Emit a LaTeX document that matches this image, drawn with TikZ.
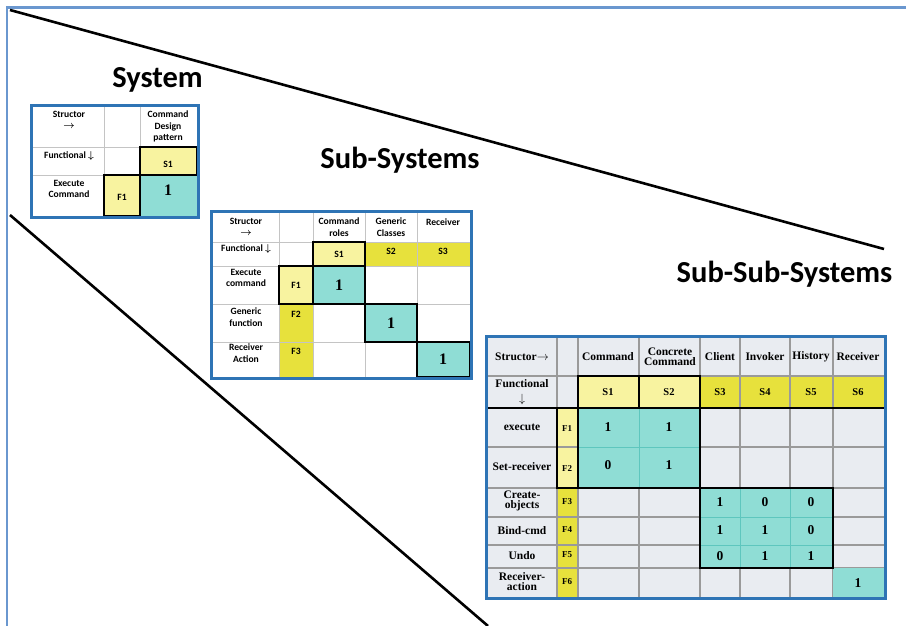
\documentclass[tikz,border=0pt]{standalone}
\usepackage{fontspec}
\setmainfont{Carlito}
\newfontfamily\timesfont{Liberation Serif}
\usepackage{xcolor}

\definecolor{pageblue}{HTML}{6A97CF}
\definecolor{tableblue}{HTML}{2E74B5}
\definecolor{paleyel}{HTML}{F8F3A0}
\definecolor{strongyel}{HTML}{E7E13C}
\definecolor{tealcell}{HTML}{8FDDD5}
\definecolor{tealline}{HTML}{5EC6BE}
\definecolor{lightcell}{HTML}{E9ECF1}
\definecolor{softgray}{HTML}{C4C4C4}
\definecolor{midgray}{HTML}{9A9A9A}

\begin{document}
\begin{tikzpicture}[
    x=1pt, y=-1pt,
    bluebox/.style={draw=tableblue, line width=3pt},
    gridline/.style={draw=softgray, line width=0.8pt},
    gridlinedark/.style={draw=midgray, line width=1.1pt},
    tealrule/.style={draw=tealline, line width=1pt},
    blackedge/.style={draw=black, line width=1.3pt},
    levelname/.style={font=\bfseries\fontsize{30.5}{34}\selectfont, inner sep=0pt, anchor=base},
    hdr/.style={font=\bfseries\fontsize{9.6}{11.5}\selectfont, align=center, inner sep=0pt},
    one/.style={font=\timesfont\bfseries\fontsize{16}{16}\selectfont, inner sep=0pt},
    hdrtimes/.style={font=\timesfont\bfseries\fontsize{11.5}{10}\selectfont, align=center, inner sep=0pt},
    ftimes/.style={font=\timesfont\bfseries\fontsize{9}{9}\selectfont, inner sep=0pt},
    valtimes/.style={font=\timesfont\bfseries\fontsize{13.5}{14}\selectfont, inner sep=0pt}
]
\useasboundingbox (0,0) rectangle (906,626);

% page edge and the two converging lines
\draw[pageblue, line width=2.5pt] (906,7.5) -- (7,7.5) -- (7,626);
\coordinate (upperstart) at (10,10);
\coordinate (upperend) at (884,249);
\coordinate (lowerstart) at (10,215);
\coordinate (lowerend) at (488,626);
\draw[line width=2.6pt] (upperstart) -- (upperend);
\draw[line width=2.6pt] (lowerstart) -- (lowerend);

% Level names
\node[levelname] (sysname) at (157.5,87.5) {System};
\node[levelname] (subname) at (400,168) {Sub-Systems};
\node[levelname] (subsubname) at (784.5,282) {Sub-Sub-Systems};

%% System matrix
\fill[paleyel] (140,147) rectangle (197,175);
\fill[paleyel] (104,175) rectangle (140,216);
\fill[tealcell] (140,175) rectangle (197,216);
\foreach \x in {104,140} \draw[gridline] (\x,107) -- (\x,216);
\foreach \y in {147,175} \draw[gridline] (33,\y) -- (197,\y);
\draw[blackedge] (140,147) rectangle (197,175);
\draw[blackedge] (104,175) rectangle (140,216);
\draw[bluebox] (31.5,105.5) rectangle (198.5,217.5);

\node[hdr, anchor=north] (sysstruct) at (69,111) {Structor\\{\boldmath$\rightarrow$}};
\node[hdr, anchor=north] (syscmd) at (168,111) {Command\\Design\\pattern};
\node[hdr] (sysfunc) at (69,156) {Functional {\boldmath$\downarrow$}};
\node[hdr] (sysS1) at (168,164) {S1};
\node[hdr] (sysexec) at (69,189) {Execute\\Command};
\node[hdr] (sysF1) at (122,197) {F1};
\node[one] (sysone) at (168,190) {1};

%% Sub-system matrix
\fill[paleyel] (313,242) rectangle (365,266);
\fill[strongyel] (365,242) rectangle (470,266);
\fill[paleyel] (279,266) rectangle (313,304);
\fill[strongyel] (279,304) rectangle (313,377);
\fill[tealcell] (313,266) rectangle (365,304);
\fill[tealcell] (365,304) rectangle (417,342);
\fill[tealcell] (417,342) rectangle (470,377);
\foreach \x in {279,313,365,417} \draw[gridline] (\x,213) -- (\x,377);
\foreach \y in {242,266,304,342} \draw[gridline] (213,\y) -- (470,\y);
\draw[blackedge] (313,242) rectangle (365,266);
\draw[blackedge] (279,266) rectangle (313,304);
\draw[blackedge] (313,266) rectangle (365,304);
\draw[blackedge] (365,304) rectangle (417,342);
\draw[blackedge] (417,342) rectangle (470,377);
\draw[bluebox] (211.5,211.5) rectangle (471.5,378.5);

\node[hdr] (substruct) at (246,227) {Structor\\{\boldmath$\rightarrow$}};
\node[hdr] (subroles) at (339,227) {Command\\roles};
\node[hdr] (subclasses) at (391,227) {Generic\\Classes};
\node[hdr] (subrecv) at (443,222) {Receiver};
\node[hdr] (subfunc) at (246,249) {Functional {\boldmath$\downarrow$}};
\node[hdr] (subS1) at (339,254) {S1};
\node[hdr] (subS2) at (391,251) {S2};
\node[hdr] (subS3) at (443,251) {S3};
\node[hdr] (subexec) at (246,278) {Execute\\command};
\node[hdr] (subgen) at (246,317) {Generic\\function};
\node[hdr] (subact) at (246,353) {Receiver\\Action};
\node[hdr] (subF1) at (296,285) {F1};
\node[hdr] (subF2) at (296,314) {F2};
\node[hdr] (subF3) at (296,351) {F3};
\node[one] (subone1) at (339,285) {1};
\node[one] (subone2) at (391,323) {1};
\node[one] (subone3) at (443,359) {1};

%% Sub-sub-system matrix
\fill[lightcell] (488,338) rectangle (884,597);
\fill[paleyel] (578,376) rectangle (700,408);
\fill[strongyel] (700,376) rectangle (884,408);
\fill[paleyel] (557,408) rectangle (578,488);
\fill[strongyel] (557,488) rectangle (578,597);
\foreach \x in {557,578,639,700,740,790,833} \draw[gridlinedark] (\x,338) -- (\x,597);
\foreach \y in {376,447,488,517,545,568} \draw[gridlinedark] (488,\y) -- (884,\y);
\fill[tealcell] (578,408) rectangle (700,488);
\fill[tealcell] (700,488) rectangle (833,568);
\fill[tealcell] (833,568) rectangle (884,597);
\draw[tealrule] (639,408) -- (639,488) (578,447) -- (700,447);
\draw[tealrule] (740,488) -- (740,568) (790,488) -- (790,568)
                (700,517) -- (833,517) (700,545) -- (833,545);
\draw[blackedge] (578,376) rectangle (639,408) (639,376) rectangle (700,408);
\draw[blackedge] (488,408) -- (884,408);
\draw[blackedge] (557,408) rectangle (700,488) (578,408) -- (578,488);
\draw[blackedge] (700,488) rectangle (833,568);
\draw[bluebox] (486.5,336.5) rectangle (885.5,598.5);

% column heads
\node[hdrtimes] (ssstruct) at (522,357) {Structor$\rightarrow$};
\node[hdrtimes] (sscmd) at (608,357) {Command};
\node[hdrtimes] (ssconcrete) at (670,357) {Concrete\\Command};
\node[hdrtimes] (ssclient) at (720,357) {Client};
\node[hdrtimes] (ssinvoker) at (765,357) {Invoker};
\node[hdrtimes] (sshistory) at (811,357) {History};
\node[hdrtimes] (ssrecv) at (858,357) {Receiver};
\node[hdrtimes, anchor=north, font=\timesfont\bfseries\fontsize{11.5}{15}\selectfont] (ssfunc) at (522,379) {Functional\\$\downarrow$};
\foreach \x/\s [count=\i] in {608/S1,669/S2,720/S3,765/S4,811/S5,858/S6}
    \node[ftimes, font=\timesfont\bfseries\fontsize{10.5}{10}\selectfont] (ssS\i) at (\x,392) {\s};

% row heads
\node[hdrtimes] (ssexec) at (522,427) {execute};
\node[hdrtimes] (ssset) at (522,467) {Set-receiver};
\node[hdrtimes] (sscreate) at (522,501) {Create-\\objects};
\node[hdrtimes] (ssbind) at (522,531) {Bind-cmd};
\node[hdrtimes] (ssundo) at (522,556) {Undo};
\node[hdrtimes] (ssaction) at (522,582) {Receiver-\\action};
\foreach \y [count=\i] in {429,469,502,530,555,582}
    \node[ftimes] (ssF\i) at (567,\y) {F\i};

% entries
\foreach \x/\y/\v [count=\i] in {608/427/1,669/427/1,608/465/0,669/465/1,
        720/502/1,765/502/0,811/502/0,720/530/1,765/530/1,811/530/0,
        720/556/0,765/556/1,811/556/1,858/583/1}
    \node[valtimes] (ssv\i) at (\x,\y) {\v};
\end{tikzpicture}
\end{document}
